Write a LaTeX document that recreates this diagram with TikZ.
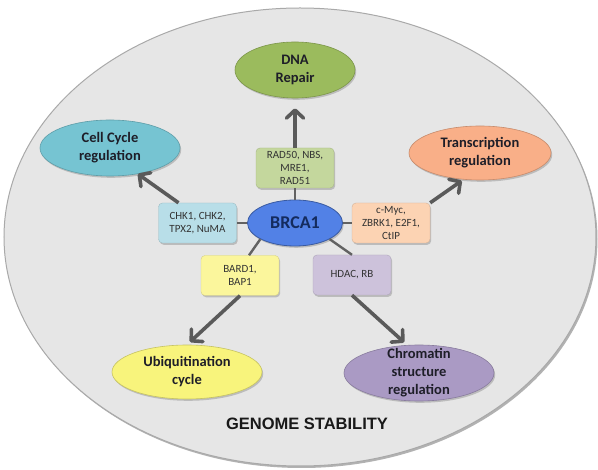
\documentclass[tikz,border=0pt]{standalone}
\usepackage{fontspec}
\setmainfont{Carlito}
\newfontfamily\headfont{Liberation Sans}
\usetikzlibrary{arrows.meta,shapes.geometric}
\definecolor{bigfill}{HTML}{E6E6E6}
\definecolor{bigline}{HTML}{A9A9A9}
\definecolor{dnaC}{HTML}{9BBB5D}
\definecolor{cellC}{HTML}{76C4D2}
\definecolor{transC}{HTML}{F9AF88}
\definecolor{ubiqC}{HTML}{F8F47C}
\definecolor{chromC}{HTML}{AA9AC4}
\definecolor{brcaC}{HTML}{5281E6}
\definecolor{brcaT}{HTML}{142B5E}
\definecolor{radC}{HTML}{C4D79D}
\definecolor{chkC}{HTML}{B8DEE8}
\definecolor{mycC}{HTML}{FCD3B3}
\definecolor{bardC}{HTML}{FBF69C}
\definecolor{hdacC}{HTML}{CDC2DB}
\definecolor{arrC}{HTML}{5A5A5A}
\definecolor{txtC}{HTML}{1E1E28}
\tikzset{
  shade/.style={preaction={fill=black,opacity=0.18,transform canvas={xshift=1.2pt,yshift=-1.8pt}}},
  elli/.style={ellipse, draw=#1!80!black, line width=0.6pt, fill=#1, shade, inner sep=0pt},
  lbl/.style={align=center, font=\bfseries\fontsize{14.5}{18}\selectfont, text=txtC, inner sep=0pt},
  pbox/.style={rectangle, rounded corners=4pt, draw=#1!85!black, line width=0.4pt, fill=#1, shade,
    minimum width=78pt, minimum height=40pt, inner sep=0.5pt, align=center,
    font=\fontsize{11}{13}\selectfont, text=black!80},
  arr/.style={draw=arrC, line width=3.6pt, -{Straight Barb[length=8pt,width=17pt,round]}},
  link/.style={draw=arrC!95, line width=2.4pt}
}
\begin{document}
\begin{tikzpicture}[x=1pt,y=-1pt]
\useasboundingbox (0,0) rectangle (598,470);
\fill[white] (0,0) rectangle (598,470);
% big background ellipse
\fill[black!30] (301.5,239) ellipse [x radius=296, y radius=229];
\draw[bigline, fill=bigfill, line width=1pt] (300,237) ellipse [x radius=296, y radius=229];

% outcome ellipses
\node[elli=dnaC, minimum width=120pt, minimum height=56pt] (dna) at (295,70) {};
\node[lbl] (dnat) at (dna) {DNA\\Repair};
\node[elli=cellC, minimum width=140pt, minimum height=56pt] (cell) at (110,148) {};
\node[lbl] (cellt) at (cell) {Cell Cycle\\regulation};
\node[elli=transC, minimum width=142pt, minimum height=54pt] (trans) at (480,153) {};
\node[lbl] (transt) at (trans) {Transcription\\regulation};
\node[elli=ubiqC, minimum width=150pt, minimum height=54pt] (ubiq) at (187,372) {};
\node[lbl] (ubiqt) at (ubiq) {Ubiquitination\\cycle};
\node[elli=chromC, minimum width=150pt, minimum height=56pt] (chrom) at (419,373) {};
\node[lbl] (chromt) at (chrom) {Chromatin\\structure\\regulation};

% partner boxes
\node[pbox=radC] (rad) at (295,168) {RAD50, NBS,\\MRE1,\\RAD51};
\node[pbox=chkC] (chk) at (197.5,223) {CHK1, CHK2,\\TPX2, NuMA};
\node[pbox=mycC] (myc) at (391,223) {c-Myc,\\ZBRK1, E2F1,\\CtIP};
\node[pbox=bardC] (bard) at (240,275.5) {BARD1,\\BAP1};
\node[pbox=hdacC] (hdac) at (352,275) {HDAC, RB};

% BRCA1
\node[ellipse, draw=brcaC!70!black, line width=0.8pt, fill=brcaC, shade, inner sep=0pt,
  minimum width=95pt, minimum height=46pt, text=brcaT,
  font=\bfseries\fontsize{18}{20}\selectfont] (brca) at (295,223) {BRCA1};

% links
\draw[link] (brca.north) -- (rad.south);
\draw[link] (brca.west) -- (chk.east);
\draw[link] (brca.east) -- (myc.west);
\draw[link] (brca.-155) -- ([xshift=9pt]bard.north);
\draw[link] (brca.-25) -- (hdac.north);

% arrows
\draw[arr, shorten >=10pt] (rad.north) -- (dna.south);
\draw[arr] ([xshift=-19pt]chk.north) -- (cell.-43);
\draw[arr, shorten >=2pt] (myc.north east) -- (trans.-122);
\draw[arr, shorten >=4pt] (bard.south) -- (ubiq.north);
\draw[arr, shorten >=4pt] (hdac.south) -- (chrom.113);

% title
\node[font=\headfont\bfseries\fontsize{16.5}{18}\selectfont, text=black!90] (gs) at (307,424) {GENOME STABILITY};
\end{tikzpicture}
\end{document}
